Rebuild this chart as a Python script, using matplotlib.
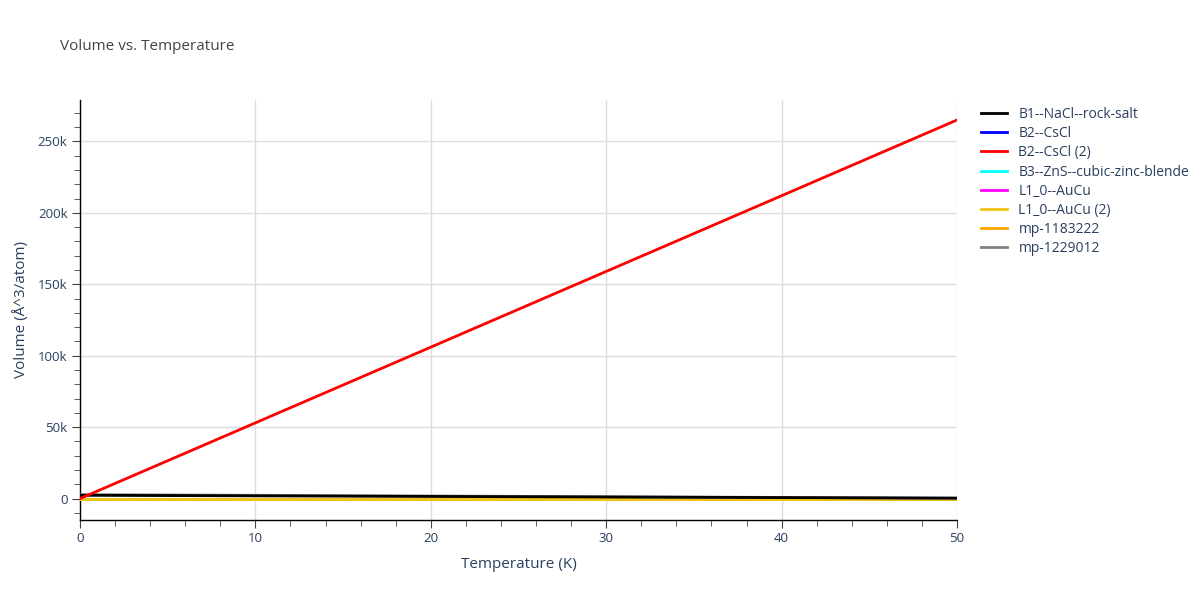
import matplotlib
matplotlib.use("Agg")
import matplotlib.pyplot as plt
from matplotlib.ticker import MultipleLocator, FuncFormatter

temperature = [0, 5, 10, 15, 20, 25, 30, 35, 40, 45, 50]

b1_nacl = [2300, 2100, 1900, 1700, 1500, 1300, 1100, 900, 700, 500, 300]
b2_cscl = [20, 20, 20, 20, 20, 20, 20, 20, 20, 20, 20]
b2_cscl_2 = [0, 26500, 53000, 79500, 106000, 132500, 159000, 185500, 212000, 238500, 265000]
b3_zns = [25, 25, 25, 25, 25, 25, 25, 25, 25, 25, 25]
l10_aucu = [-150, -150, -150, -150, -150, -150, -150, -150, -150, -150, -150]
l10_aucu_2 = [16, 16, 16, 16, 16, 16, 16, 16, 16, 16, 16]
mp_1183222 = [18, 18, 18, 18, 18, 18, 18, 18, 18, 18, 18]
mp_1229012 = [2800, 2550, 2300, 2050, 1800, 1550, 1300, 1050, 800, 550, 300]

series = [
    ("B1--NaCl--rock-salt", b1_nacl, "black"),
    ("B2--CsCl", b2_cscl, "blue"),
    ("B2--CsCl (2)", b2_cscl_2, "red"),
    ("B3--ZnS--cubic-zinc-blende", b3_zns, "cyan"),
    ("L1_0--AuCu", l10_aucu, "magenta"),
    ("L1_0--AuCu (2)", l10_aucu_2, "#f0c419"),
    ("mp-1183222", mp_1183222, "orange"),
    ("mp-1229012", mp_1229012, "gray"),
]
zorders = [12, 4, 13, 5, 3, 8, 7, 11]

plt.rcParams['font.family'] = ['Open Sans', 'DejaVu Sans']
fig = plt.figure(figsize=(12, 6), dpi=100)
ax = fig.add_axes([80/1200, 80/600, 877/1200, 420/600])

handles = []
for i, (name, vals, col) in enumerate(series):
    ln, = ax.plot(temperature, vals, color=col, lw=2, label=name, zorder=zorders[i])
    handles.append(ln)

ax.set_xlim(0, 50)
ax.set_ylim(-15000, 279000)
ax.xaxis.set_major_locator(MultipleLocator(10))
ax.xaxis.set_minor_locator(MultipleLocator(2))
ax.yaxis.set_major_locator(MultipleLocator(50000))
ax.yaxis.set_minor_locator(MultipleLocator(10000))
ax.yaxis.set_major_formatter(FuncFormatter(lambda v, p: "0" if v == 0 else f"{int(v/1000)}k"))

ax.grid(True, which='major', color='#dddddd', lw=1, zorder=0)
for s in ['top', 'right']:
    ax.spines[s].set_visible(False)
for s in ['left', 'bottom']:
    ax.spines[s].set_color('black')
    ax.spines[s].set_linewidth(1)
ax.tick_params(which='major', direction='out', length=6, color='#444444', labelcolor='#2a3f5f', labelsize=9.5, pad=3)
ax.tick_params(which='minor', direction='out', length=4, color='#444444')

ax.set_xlabel("Temperature (K)", color='#2a3f5f', fontsize=11, labelpad=8)
ax.set_ylabel("Volume (Å^3/atom)", color='#2a3f5f', fontsize=11, labelpad=6)
fig.text(60/1200, 1 - 46/600, "Volume vs. Temperature", color='#444444', fontsize=11, va='center', ha='left')

leg = ax.legend(handles, [s[0] for s in series],
                loc='upper left', bbox_to_anchor=((981 - 80)/877, 1.0 - 7/420), frameon=False,
                fontsize=10, labelcolor='#2a3f5f', handlelength=1.9, handletextpad=0.8,
                labelspacing=0.3, borderaxespad=0, borderpad=0)

fig.savefig("out.png", dpi=100)
